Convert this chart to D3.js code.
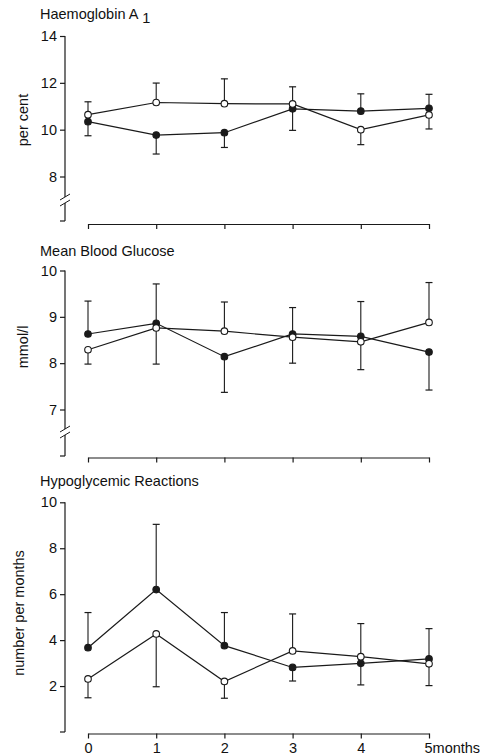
<html>
<head>
<style>
  body { margin: 0; background: #fff; }
  text { font-family: "Liberation Sans", Arial, sans-serif; fill: #111; }
</style>
</head>
<body>
<div id="chart"></div>
<script src="https://d3js.org/d3.v7.min.js"></script>
<script>
// months on the x axis
var months = [0, 1, 2, 3, 4, 5];

// Haemoglobin A1 (per cent)
var hbFilled = [10.34, 9.77, 9.87, 10.89, 10.79, 10.91];
var hbFilledBar = [9.74, 8.96, 9.24, 9.97, 11.53, 11.51];
var hbOpen = [10.64, 11.16, 11.11, 11.1, 10.0, 10.63];
var hbOpenBar = [11.19, 11.99, 12.17, 11.83, 9.36, 10.03];
var hbTicks = [8, 10, 12, 14];

// Mean blood glucose (mmol/l)
var glFilled = [8.63, 8.86, 8.14, 8.63, 8.58, 8.24];
var glFilledBar = [9.34, 9.71, 7.37, 9.2, 9.33, 7.42];
var glOpen = [8.29, 8.76, 8.69, 8.56, 8.46, 8.88];
var glOpenBar = [7.98, 7.98, 9.32, 8.0, 7.86, 9.74];
var glTicks = [7, 8, 9, 10];

// Hypoglycemic reactions (number per month)
var hyFilled = [3.67, 6.2, 3.76, 2.81, 2.99, 3.18];
var hyFilledBar = [5.2, 9.04, 5.2, 2.22, 2.05, 4.5];
var hyOpen = [2.31, 4.27, 2.2, 3.53, 3.28, 2.97];
var hyOpenBar = [1.49, 1.97, 1.47, 5.14, 4.72, 2.02];
var hyTicks = [2, 4, 6, 8, 10];

var svg = d3.select("#chart").append("svg")
    .attr("width", 480)
    .attr("height", 755);

var x = d3.scaleLinear().domain([0, 5]).range([88, 429]);
var axisX = 65;
var ink = "#1a1a1a";
var fontSize = "14.5px";

function panel(p) {
    var y = d3.scaleLinear().domain(p.domain).range(p.range);
    var g = svg.append("g");

    // title
    var t = g.append("text")
        .attr("x", 40).attr("y", p.titleY)
        .style("font-size", fontSize)
        .text(p.title);
    if (p.sub) {
        t.append("tspan").attr("dx", 4).attr("dy", 4).text(p.sub);
    }

    // y axis label
    g.append("text")
        .attr("transform", "translate(" + p.labelX + "," + p.labelY + ") rotate(-90)")
        .attr("text-anchor", "middle")
        .style("font-size", fontSize)
        .text(p.ylabel);

    // y axis ticks
    var ya = g.append("g")
        .attr("transform", "translate(" + axisX + ",0)")
        .call(d3.axisLeft(y).tickValues(p.ticks).tickFormat(d3.format("d")).tickSize(5).tickPadding(3));
    ya.select(".domain").remove();
    ya.selectAll("line").attr("stroke", ink).attr("stroke-width", 1.2);
    ya.selectAll("text").style("font-size", fontSize).style("font-family", "Liberation Sans, Arial, sans-serif").attr("fill", ink);

    // y axis line, possibly broken
    var top = y(p.domain[1]);
    if (p.breakY) {
        g.append("line").attr("x1", axisX).attr("x2", axisX)
            .attr("y1", top).attr("y2", p.breakY - 3)
            .attr("stroke", ink).attr("stroke-width", 1.2);
        g.append("line").attr("x1", axisX).attr("x2", axisX)
            .attr("y1", p.breakY + 3).attr("y2", p.bottom)
            .attr("stroke", ink).attr("stroke-width", 1.2);
        [-3, 3].forEach(function (o) {
            g.append("line")
                .attr("x1", axisX - 5).attr("y1", p.breakY + o + 3)
                .attr("x2", axisX + 5).attr("y2", p.breakY + o - 3)
                .attr("stroke", ink).attr("stroke-width", 1);
        });
    } else {
        g.append("line").attr("x1", axisX).attr("x2", axisX)
            .attr("y1", top).attr("y2", p.bottom)
            .attr("stroke", ink).attr("stroke-width", 1.2);
    }
    g.append("line").attr("x1", axisX - 5).attr("x2", axisX)
        .attr("y1", p.bottom).attr("y2", p.bottom)
        .attr("stroke", ink).attr("stroke-width", 1.2);

    // x axis
    var xa = g.append("g")
        .attr("transform", "translate(0," + p.xAxisY + ")")
        .call(d3.axisBottom(x).tickValues(months).tickSizeInner(5).tickSizeOuter(0).tickPadding(4)
            .tickFormat(p.showLabels ? function (d) { return d === 5 ? "5months" : d; } : ""));
    xa.select(".domain").attr("stroke", ink).attr("stroke-width", 1.2);
    xa.selectAll("line").attr("stroke", ink).attr("stroke-width", 1.2);
    xa.selectAll("text").style("font-size", fontSize).style("font-family", "Liberation Sans, Arial, sans-serif").attr("fill", ink);
    xa.selectAll(".tick").filter(function (d) { return d === 5; }).select("text")
        .attr("text-anchor", "start").attr("dx", -5);

    var series = [
        { vals: p.filled, bars: p.filledBar, fill: ink },
        { vals: p.open, bars: p.openBar, fill: "#fff" }
    ];

    // error bars
    series.forEach(function (s) {
        months.forEach(function (m, i) {
            g.append("line")
                .attr("x1", x(m)).attr("x2", x(m))
                .attr("y1", y(s.vals[i])).attr("y2", y(s.bars[i]))
                .attr("stroke", ink).attr("stroke-width", 1.1);
            g.append("line")
                .attr("x1", x(m) - 3.5).attr("x2", x(m) + 3.5)
                .attr("y1", y(s.bars[i])).attr("y2", y(s.bars[i]))
                .attr("stroke", ink).attr("stroke-width", 1.2);
        });
    });

    // lines
    var line = d3.line().x(function (d, i) { return x(months[i]); }).y(function (d) { return y(d); });
    series.forEach(function (s) {
        g.append("path").datum(s.vals)
            .attr("d", line)
            .attr("fill", "none")
            .attr("stroke", ink)
            .attr("stroke-width", 1.2);
    });

    // markers
    series.forEach(function (s) {
        g.selectAll(null).data(s.vals).enter().append("circle")
            .attr("cx", function (d, i) { return x(months[i]); })
            .attr("cy", function (d) { return y(d); })
            .attr("r", 3.3)
            .attr("fill", s.fill)
            .attr("stroke", ink)
            .attr("stroke-width", 1.1);
    });
}

panel({
    title: "Haemoglobin A", sub: "1", titleY: 19,
    ylabel: "per cent", labelX: 28, labelY: 120,
    domain: [8, 14], range: [176.5, 36], ticks: hbTicks,
    breakY: 200, bottom: 221, xAxisY: 224, showLabels: false,
    filled: hbFilled, filledBar: hbFilledBar, open: hbOpen, openBar: hbOpenBar
});

panel({
    title: "Mean Blood Glucose", titleY: 256,
    ylabel: "mmol/l", labelX: 28, labelY: 347,
    domain: [7, 10], range: [409.5, 270.5], ticks: glTicks,
    breakY: 432, bottom: 456, xAxisY: 457.5, showLabels: false,
    filled: glFilled, filledBar: glFilledBar, open: glOpen, openBar: glOpenBar
});

panel({
    title: "Hypoglycemic Reactions", titleY: 486,
    ylabel: "number per months", labelX: 24, labelY: 613,
    domain: [0, 10], range: [732, 502.3], ticks: hyTicks,
    breakY: null, bottom: 732, xAxisY: 733.5, showLabels: true,
    filled: hyFilled, filledBar: hyFilledBar, open: hyOpen, openBar: hyOpenBar
});
</script>
</body>
</html>
